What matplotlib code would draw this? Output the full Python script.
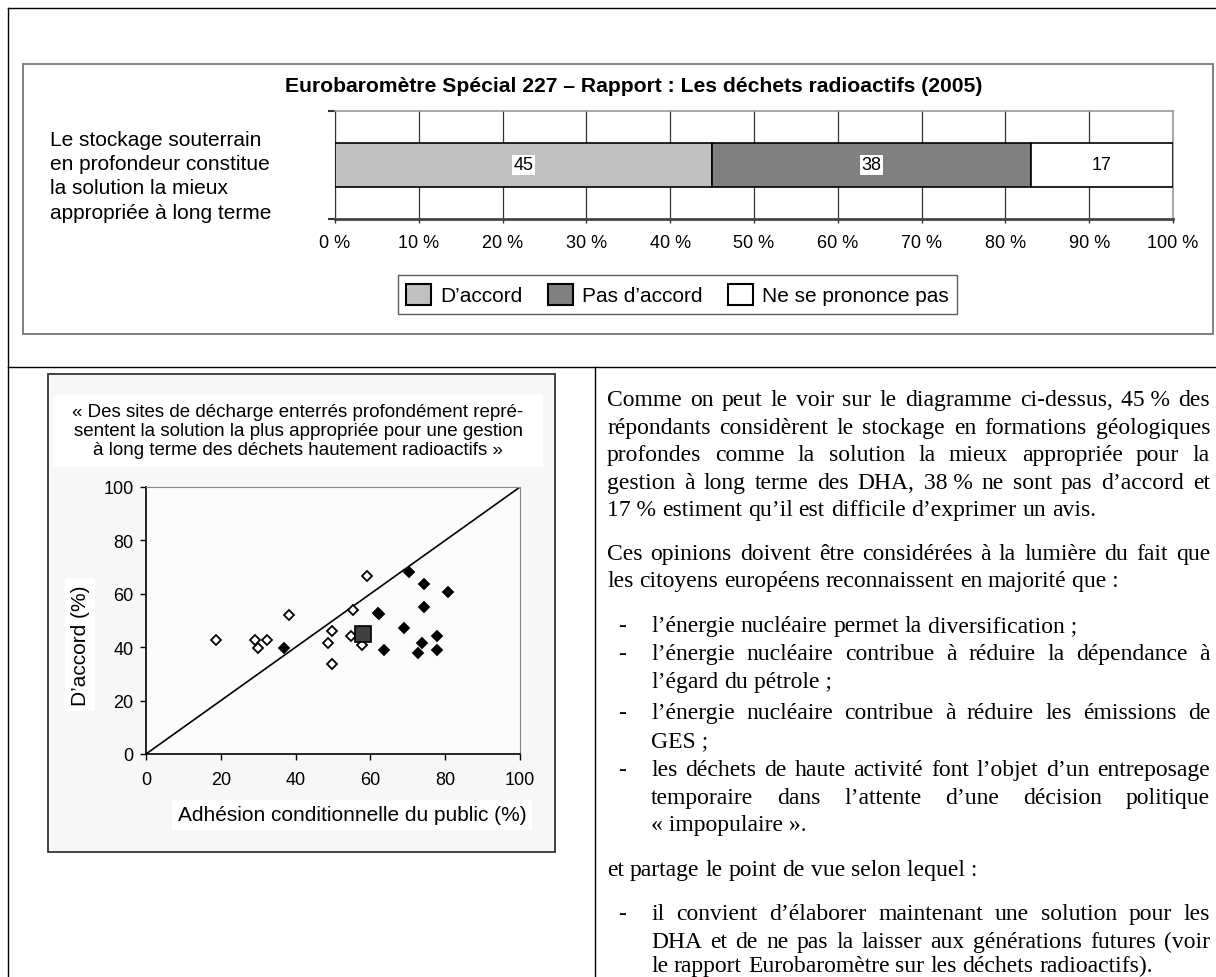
"""Eurobaromètre 227 : barre empilée + nuage de points + texte justifié."""

import matplotlib
matplotlib.use("Agg")
import matplotlib.pyplot as plt
from matplotlib.font_manager import FontProperties
from matplotlib.lines import Line2D
from matplotlib.patches import Patch, Rectangle

W, H = 1216, 978

# --- données ---
bar_categories = ["D’accord", "Pas d’accord", "Ne se prononce pas"]
bar_values = [45, 38, 17]
bar_colors = ["#c0c0c0", "#808080", "#ffffff"]
bar_question = ["Le stockage souterrain", "en profondeur constitue",
                "la solution la mieux", "appropriée à long terme"]
bar_ticks = [0, 10, 20, 30, 40, 50, 60, 70, 80, 90, 100]
bar_ticklabels = [f"{t} %" for t in bar_ticks]

open_x = [18.7, 29.1, 30.0, 32.3, 38.3, 48.6, 49.8, 49.7, 55.4, 54.9, 57.7, 59.0]
open_y = [42.8, 42.8, 39.7, 42.8, 52.1, 41.6, 45.9, 33.6, 53.9, 44.2, 40.9, 66.8]
filled_x = [37.0, 61.9, 62.4, 63.7, 69.0, 70.3, 74.2, 74.2, 73.9, 72.6, 77.8, 77.8, 80.8]
filled_y = [39.8, 52.7, 52.4, 39.1, 47.2, 68.2, 63.8, 55.1, 41.6, 37.9, 44.2, 39.1, 60.7]
eu_x = [58.0]
eu_y = [45.0]
diag = [0, 100]
scatter_ticks = [0, 20, 40, 60, 80, 100]
scatter_title = ["« Des sites de décharge enterrés profondément repré-",
                 "sentent la solution la plus appropriée pour une gestion",
                 "à long terme des déchets hautement radioactifs »"]

# texte de droite : (retrait, texte, justifié)
body = [
    ("p", "Comme on peut le voir sur le diagramme ci-dessus, 45\u00a0% des", True),
    ("p", "répondants considèrent le stockage en formations géologiques", True),
    ("p", "profondes comme la solution la mieux appropriée pour la", True),
    ("p", "gestion à long terme des DHA, 38\u00a0% ne sont pas d’accord et", True),
    ("p", "17\u00a0% estiment qu’il est difficile d’exprimer un avis.", False),
    ("p", "Ces opinions doivent être considérées à la lumière du fait que", True),
    ("p", "les citoyens européens reconnaissent en majorité que\u00a0:", False),
    ("b", "l’énergie nucléaire permet la diversification\u00a0;", False),
    ("b", "l’énergie nucléaire contribue à réduire la dépendance à", True),
    ("i", "l’égard du pétrole\u00a0;", False),
    ("b", "l’énergie nucléaire contribue à réduire les émissions de", True),
    ("i", "GES\u00a0;", False),
    ("b", "les déchets de haute activité font l’objet d’un entreposage", True),
    ("i", "temporaire dans l’attente d’une décision politique", True),
    ("i", "«\u00a0impopulaire\u00a0».", False),
    ("p", "et partage le point de vue selon lequel\u00a0:", False),
    ("b", "il convient d’élaborer maintenant une solution pour les", True),
    ("i", "DHA et de ne pas la laisser aux générations futures (voir", True),
    ("i", "le rapport Eurobaromètre sur les déchets radioactifs).", False),
]
body_y = [399.3, 426.7, 454, 481.7, 509.3, 553.3, 580, 625, 653.3, 681,
          712.3, 740, 769.3, 796.7, 824, 869.3, 913.3, 941, 965]


def fx(x):
    return x / W


def fy(y):
    return 1 - y / H


def frect(x0, y0, x1, y1, **kw):
    return Rectangle((fx(x0), fy(y1)), (x1 - x0) / W, (y1 - y0) / H,
                     transform=fig.transFigure, **kw)


def fline(xs, ys, **kw):
    fig.add_artist(Line2D([fx(x) for x in xs], [fy(y) for y in ys],
                          transform=fig.transFigure, **kw))


fig = plt.figure(figsize=(W / 100, H / 100), dpi=100)
sans = "Liberation Sans"

# cadre de la page
fline([8.3, W], [9.3, 9.3], color="black", lw=1.0)
fline([8.3, 8.3], [9.3, H], color="black", lw=1.0)
fline([8.3, W], [367.7, 367.7], color="black", lw=1.0)
fline([595, 595], [367.7, H], color="black", lw=1.0)

# ---- barre empilée ----
fig.add_artist(frect(22.7, 65, 1213, 335, facecolor="white",
                     edgecolor="#808080", lw=1.4, zorder=-2))
fig.text(fx(634), fy(86), "Eurobaromètre Spécial 227 – Rapport : Les déchets radioactifs (2005)",
         ha="center", va="center", fontsize=15.2, fontweight="bold", family=sans)

ax = fig.add_axes([fx(335), fy(220), (1173 - 335) / W, 108 / H])
left = 0
for cat, v, c in zip(bar_categories, bar_values, bar_colors):
    ax.barh(0, v, left=left, height=0.4, color=c, edgecolor="black", lw=1.2, zorder=3)
    ax.text(left + v / 2, 0, str(v), ha="center", va="center", fontsize=13, family=sans,
            zorder=4, bbox=dict(facecolor="white", edgecolor="none", pad=1))
    left += v
ax.set_xlim(0, 100)
ax.set_ylim(-0.5, 0.5)
ax.set_xticks(bar_ticks)
ax.set_xticklabels(bar_ticklabels, family=sans, fontsize=13)
ax.set_yticks([-0.5, 0.5])
ax.set_yticklabels([])
ax.xaxis.grid(True, color="#333333", lw=0.9)
ax.set_axisbelow(True)
ax.tick_params(axis="x", direction="out", length=3, width=1, color="#333333", pad=8)
ax.tick_params(axis="y", direction="out", length=5, width=1.5, color="#333333")
for s in ("top", "right"):
    ax.spines[s].set_color("#999999")
    ax.spines[s].set_linewidth(1.2)
ax.spines["bottom"].set_color("#444444")
ax.spines["bottom"].set_linewidth(2)
ax.spines["left"].set_color("#333333")

for i, line in enumerate(bar_question):
    fig.text(fx(50.4), fy(140 + 24.4 * i), line, ha="left", va="center",
             fontsize=15, family=sans)

handles = [Patch(facecolor=c, edgecolor="black", lw=1.5) for c in bar_colors]
fig.legend(handles, bar_categories, loc="center", bbox_to_anchor=(fx(677.5), fy(295.5)),
           ncol=3, prop=dict(family=sans, size=15), frameon=True,
           fancybox=False, edgecolor="#333333", handlelength=1.2, handleheight=1.2,
           handletextpad=0.45, columnspacing=1.2, borderpad=0.4)

# ---- nuage de points ----
fig.add_artist(frect(47.7, 375, 555, 852.7, facecolor="#f7f7f7",
                     edgecolor="#333333", lw=1.3, zorder=-2))
fig.add_artist(frect(53.7, 396, 542.5, 468, facecolor="white",
                     edgecolor="none", zorder=-1))
for i, line in enumerate(scatter_title):
    fig.text(fx(298), fy(412.3 + 19.2 * i), line, ha="center", va="center",
             fontsize=13.5, family=sans)

ax2 = fig.add_axes([fx(146), fy(755), 374 / W, 267 / H])
ax2.set_facecolor("#fbfbfb")
ax2.plot(diag, diag, color="black", lw=1.2)
ax2.plot(open_x, open_y, "D", mfc="white", mec="black", ms=5.5, mew=1.3, ls="none")
ax2.plot(filled_x, filled_y, "D", mfc="black", mec="black", ms=5.5, mew=1.3, ls="none")
ax2.plot(eu_x, eu_y, "s", mfc="#404040", mec="black", ms=11, mew=1.2, ls="none")
ax2.set_xlim(0, 100)
ax2.set_ylim(0, 100)
ax2.set_xticks(scatter_ticks)
ax2.set_yticks(scatter_ticks)
for lab in ax2.get_xticklabels() + ax2.get_yticklabels():
    lab.set_family(sans)
    lab.set_fontsize(13)
ax2.tick_params(direction="out", length=4, width=1, pad=8)
ax2.tick_params(axis="y", pad=5)
for s in ("top", "right"):
    ax2.spines[s].set_color("#888888")
for s in ("left", "bottom"):
    ax2.spines[s].set_color("black")
    ax2.spines[s].set_linewidth(1.2)

fig.text(fx(80), fy(646), "D’accord (%)", rotation=90, ha="center", va="center",
         fontsize=15, family=sans,
         bbox=dict(facecolor="white", edgecolor="none", pad=4))
fig.text(fx(352), fy(816), "Adhésion conditionnelle du public (%)", ha="center",
         va="center", fontsize=15, family=sans,
         bbox=dict(facecolor="white", edgecolor="none", pad=4))

# ---- texte justifié ----
serif = FontProperties(family="Liberation Serif", size=17)
renderer = fig.canvas.get_renderer()
x_par, x_dash, x_item, x_right = 607, 618, 651, 1210


def word_width(w):
    return renderer.get_text_width_height_descent(w, serif, ismath=False)[0]


for (kind, text, justify), yc in zip(body, body_y):
    base = yc + 7
    x0 = x_par if kind == "p" else x_item
    if kind == "b":
        fig.text(fx(x_dash), fy(base), "-", fontproperties=serif, ha="left", va="baseline")
    words = [w.replace("\u00a0", " ") for w in text.split(" ")]
    widths = [word_width(w) for w in words]
    if justify and len(words) > 1:
        gap = (x_right - x0 - sum(widths)) / (len(words) - 1)
    else:
        gap = word_width(" ")
    x = x0
    for w, wd in zip(words, widths):
        fig.text(fx(x), fy(base), w, fontproperties=serif, ha="left", va="baseline")
        x += wd + gap

fig.savefig("out.png", dpi=100)
